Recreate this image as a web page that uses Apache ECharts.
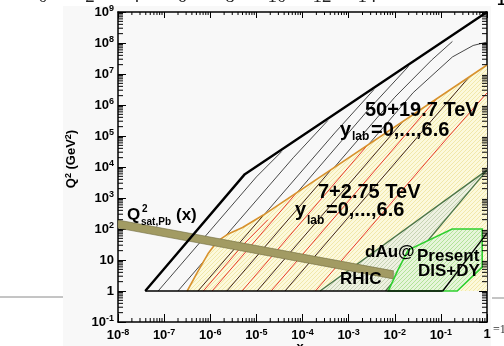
<!DOCTYPE html>
<html>
<head>
<meta charset="utf-8">
<script src="https://cdn.jsdelivr.net/npm/echarts@6/dist/echarts.min.js"></script>
<style>
html,body{margin:0;padding:0;background:#fff;}
#c{width:504px;height:346px;}
</style>
</head>
<body>
<div id="c"></div>
<script>
// All curves are given in decades: [log10(x), log10(Q^2 / GeV^2)]
const xDecades = [-8, -7, -6, -5, -4, -3, -2, -1, 0];
const qDecades = [-1, 0, 1, 2, 3, 4, 5, 6, 7, 8, 9];

// outer kinematic limit, 50+19.7 TeV
const fccLimit = [[-7.41, 0], [-5.25, 3.77], [0, 9]];
// fixed-rapidity lines, 50+19.7 TeV
const fccLines = [
  [[-7.13, 0], [-5.0, 3.68], [-4.45, 4.5]],
  [[-6.70, 0], [-4.2, 4.3], [-3.45, 5.5]],
  [[-6.26, 0], [-3.3, 5.1], [-2.45, 6.5]],
  [[-5.95, 0], [-2.6, 5.8], [-1.7, 7.25]],
  [[-5.62, 0], [-2.0, 6.25], [-1.2, 7.45], [-0.75, 8.05]],
  [[-5.30, 0], [-1.6, 6.4], [-0.75, 7.55], [-0.3, 7.92], [0, 8.03]]
];
// outer kinematic limit, 7+2.75 TeV
const lhcLimit = [[-6.50, 0], [-6.28, 0.6], [-6.05, 1.2], [-5.85, 1.6], [-5.6, 1.85], [-5.3, 2.05], [-4.85, 2.45], [0, 7.29]];
// fixed-rapidity lines, 7+2.75 TeV
const lhcDark = [
  [[-6.265, 0], [-4.85, 2.44]],
  [[-5.64, 0], [-3.38, 3.91]],
  [[-4.985, 0], [-1.83, 5.46]],
  [[-4.38, 0], [-0.39, 6.90]]
];
const lhcRed = [
  [[-6.15, 0], [-5.3, 1.47], [-4.75, 2.30]],
  [[-5.96, 0], [-4.14, 3.15]],
  [[-5.31, 0], [-2.60, 4.69]],
  [[-4.68, 0], [-1.10, 6.19]],
  [[-3.72, 0], [-1.0, 4.7], [0, 6.39]]
];
// saturation scale band for Pb (centre line and half width, in decades)
const satCentre = [[-8, 2.16], [-2.03, 0.52]];
const satHalfWidth = 0.13;
const satTail = [[-2.03, 0.52], [-1.66, 0.42]];
// dAu at RHIC
const rhicUpper = [[-3.62, 0], [0, 3.9]];
const rhicLower = [[-2.2, 0], [0, 3.9]];
// present DIS + Drell-Yan coverage
const disDy = [[-2.14, 0], [-1.93, 0.68], [-1.71, 1.32], [-0.755, 2.0], [-0.104, 2.0], [-0.104, 0.77], [-0.646, 0]];
// lowest-Q^2 edge and high-x edge
const q2Floor = [[-7.41, 0], [-0.96, 0]];
const highXEdge = [[-0.96, 0], [0, 1.87]];

function hatch(bg, fg, step) {
  const c = document.createElement('canvas');
  c.width = step; c.height = step;
  const g = c.getContext('2d');
  g.fillStyle = bg; g.fillRect(0, 0, step, step);
  g.strokeStyle = fg; g.lineWidth = 1;
  g.beginPath();
  g.moveTo(0, step); g.lineTo(step, 0);
  g.moveTo(-1, 1); g.lineTo(1, -1);
  g.moveTo(step - 1, step + 1); g.lineTo(step + 1, step - 1);
  g.stroke();
  return {image: c, repeat: 'repeat'};
}

const chart = echarts.init(document.getElementById('c'));

function polySeries(points, style, z) {
  return {
    type: 'custom', coordinateSystem: 'cartesian2d', z: z, silent: true,
    data: [[-4, 0]],
    renderItem: function (p, api) {
      return {type: 'polygon', shape: {points: points.map(function (q) { return api.coord(q); })}, style: style};
    }
  };
}
function lineSeries(points, color, width, z, dash) {
  return {
    type: 'line', data: points, showSymbol: false, smooth: false, z: z, silent: true,
    lineStyle: {color: color, width: width, type: dash || 'solid'}, animation: false
  };
}

// band polygon from its centre line
const satPoly = satCentre.map(function (p) { return [p[0], p[1] + satHalfWidth]; })
  .concat(satCentre.slice().reverse().map(function (p) { return [p[0], p[1] - satHalfWidth]; }));

const lhcRegion = lhcLimit.concat([[0, 7.29], [0, 0]]);
const rhicRegion = rhicUpper.concat(rhicLower.slice().reverse());

// minor ticks at 2..9 within each decade
const minorX = [], minorY = [];
xDecades.slice(0, -1).forEach(function (d) { for (let k = 2; k < 10; k++) minorX.push(d + Math.log10(k)); });
qDecades.slice(0, -1).forEach(function (d) { for (let k = 2; k < 10; k++) minorY.push(d + Math.log10(k)); });

const tickSeries = {
  type: 'custom', z: 20, silent: true, clip: false,
  data: minorX.map(function (v) { return [v, -1, 0]; }).concat(minorY.map(function (v) { return [-8, v, 1]; })),
  renderItem: function (p, api) {
    const v = api.value(0), w = api.value(1), isY = api.value(2) === 1;
    if (!isY) {
      const a = api.coord([v, -1]), b = api.coord([v, 9]);
      return {type: 'group', children: [
        {type: 'line', shape: {x1: a[0], y1: a[1], x2: a[0], y2: a[1] - 4}, style: {stroke: '#000', lineWidth: 1}},
        {type: 'line', shape: {x1: b[0], y1: b[1], x2: b[0], y2: b[1] + 3}, style: {stroke: '#000', lineWidth: 1}}
      ]};
    }
    const l = api.coord([-8, w]), r = api.coord([0, w]);
    return {type: 'group', children: [
      {type: 'line', shape: {x1: l[0], y1: l[1], x2: l[0] + 5, y2: l[1]}, style: {stroke: '#000', lineWidth: 1}},
      {type: 'line', shape: {x1: r[0], y1: r[1], x2: r[0] - 5, y2: r[1]}, style: {stroke: '#000', lineWidth: 1}}
    ]};
  }
};

function powLabel(v) {
  const e = Math.round(v);
  if (e === 0) return '{b|1}';
  if (e === 1) return '{b|10}';
  return '{b|10}{s|' + e + '}';
}
const labelRich = {
  b: {fontFamily: 'Liberation Sans', fontWeight: 'bold', fontSize: 13, color: '#000'},
  s: {fontFamily: 'Liberation Sans', fontWeight: 'bold', fontSize: 9, color: '#000', verticalAlign: 'top', padding: [0, 0, 6, 0]}
};

const series = [];
// rapidity lines of the larger machine sit underneath the LHC area
fccLines.forEach(function (l) { series.push(lineSeries(l, '#1a1a1a', 0.8, 1)); });
series.push(polySeries(lhcRegion, {fill: hatch('#fcf9dc', '#f1e8aa', 4), stroke: null}, 2));
series.push(polySeries(rhicRegion, {fill: hatch('#eef1e2', '#c6d4b2', 4), stroke: null}, 3));
lhcDark.forEach(function (l) { series.push(lineSeries(l, '#2b0d08', 0.9, 5)); });
lhcRed.forEach(function (l) { series.push(lineSeries(l, '#e5261a', 0.9, 5)); });
series.push(lineSeries(rhicUpper, '#4a7446', 1.3, 6));
series.push(lineSeries(rhicLower, '#4a7446', 1.3, 6));
series.push(lineSeries(lhcLimit, '#d8922e', 1.6, 7));
series.push(polySeries(satPoly, {fill: '#a29b63', stroke: '#6f6a3c', lineWidth: 0.6}, 8));
series.push(lineSeries(satTail, '#b9b49a', 0.8, 8, 'dashed'));
series.push(polySeries(disDy, {fill: hatch('#e6f5da', '#b2e398', 4), stroke: '#2fd02f', lineWidth: 1.6}, 9));
series.push(lineSeries(fccLimit, '#000', 2.4, 10));
series.push(lineSeries(q2Floor, '#000', 1.6, 10));
series.push(lineSeries(highXEdge, '#000', 1.3, 10));
series.push(tickSeries);

const txt = function (x, y, text, size) {
  return {type: 'text', x: x, y: y, z: 100, style: {
    text: text, fill: '#000', fontFamily: 'Liberation Sans', fontWeight: 'bold', fontSize: size,
    textVerticalAlign: 'middle'}};
};

chart.setOption({
  animation: false,
  backgroundColor: '#ffffff',
  grid: {left: 118, top: 12, width: 369, height: 310, show: false},
  xAxis: [
    {type: 'value', min: -8, max: 0, interval: 1, position: 'bottom',
     axisLine: {show: true, onZero: false, lineStyle: {color: '#000', width: 1.5}},
     axisTick: {inside: true, length: 8, lineStyle: {color: '#000', width: 1}},
     axisLabel: {formatter: powLabel, rich: labelRich, margin: 6},
     splitLine: {show: false}},
    {type: 'value', min: -8, max: 0, interval: 1, position: 'top',
     axisLine: {show: true, onZero: false, lineStyle: {color: '#000', width: 1.5}},
     axisTick: {inside: true, length: 6, lineStyle: {color: '#000', width: 1}},
     axisLabel: {show: false}, splitLine: {show: false}}
  ],
  yAxis: [
    {type: 'value', min: -1, max: 9, interval: 1, position: 'left',
     axisLine: {show: true, onZero: false, lineStyle: {color: '#000', width: 1.5}},
     axisTick: {inside: true, length: 8, lineStyle: {color: '#000', width: 1}},
     axisLabel: {formatter: powLabel, rich: labelRich, margin: 4},
     splitLine: {show: false}},
    {type: 'value', min: -1, max: 9, interval: 1, position: 'right',
     axisLine: {show: true, onZero: false, lineStyle: {color: '#000', width: 1.5}},
     axisTick: {inside: true, length: 8, lineStyle: {color: '#000', width: 1}},
     axisLabel: {show: false}, splitLine: {show: false}}
  ],
  graphic: [
    {type: 'rect', z: -10, shape: {x: 63, y: 6, width: 428, height: 340}, style: {fill: '#f8f8f8'}},
    {type: 'line', z: 1, shape: {x1: 0, y1: 297, x2: 63, y2: 297}, style: {stroke: '#8a8a8a', lineWidth: 1}},
    {type: 'line', z: 1, shape: {x1: 492, y1: 298, x2: 504, y2: 298}, style: {stroke: '#8a8a8a', lineWidth: 1}},
    {type: 'text', z: 1, x: 493, y: 330, style: {text: '=1', fill: '#333', fontFamily: 'Liberation Serif', fontSize: 12, textVerticalAlign: 'middle'}},
    txt(365, 110, '50+19.7 TeV', 20),
    txt(340, 130, 'y', 20),
    txt(352, 137, 'lab', 12),
    txt(371, 130, '=0,...,6.6', 20),
    txt(318, 192, '7+2.75 TeV', 20),
    txt(295, 210, 'y', 20),
    txt(307, 221, 'lab', 12),
    txt(326, 210, '=0,...,6.6', 20),
    txt(365, 252, 'dAu@', 17),
    txt(340, 279, 'RHIC', 17),
    txt(417, 256, 'Present', 17),
    txt(418, 271, 'DIS+DY', 17),
    txt(127, 215, 'Q', 17),
    txt(142, 209, '2', 10),
    txt(141, 222, 'sat,Pb', 10),
    txt(176, 215, '(x)', 17),
    {type: 'text', z: 100, x: 71, y: 159, rotation: Math.PI / 2, style: {
      text: '{b|Q}{s|2}{b| (GeV}{s|2}{b|)}', textAlign: 'center', textVerticalAlign: 'middle',
      rich: {b: {fontFamily: 'Liberation Sans', fontWeight: 'bold', fontSize: 13, color: '#000'},
             s: {fontFamily: 'Liberation Sans', fontWeight: 'bold', fontSize: 9, color: '#000', verticalAlign: 'top'}}}},
    {type: 'text', z: 100, x: 300, y: 341, style: {text: 'x', fill: '#000', fontFamily: 'Liberation Sans', fontWeight: 'bold', fontSize: 13, textAlign: 'center'}}
  ].concat(['0', '2', '4', '6', '8', '10', '12', '14'].map(function (t, i) {
    return {type: 'text', z: 1, x: [43, 90, 135, 182, 230, 277, 322, 367][i], y: 7,
      style: {text: t, fill: '#222', fontFamily: 'Liberation Serif', fontSize: 19, textAlign: 'center', textVerticalAlign: 'bottom'}};
  })).concat([{type: 'text', z: 1, x: 497, y: 8, style: {text: '10', fill: '#000', fontFamily: 'Liberation Sans', fontWeight: 'bold', fontSize: 15, textAlign: 'left', textVerticalAlign: 'bottom'}}]),
  series: series
});
</script>
</body>
</html>
